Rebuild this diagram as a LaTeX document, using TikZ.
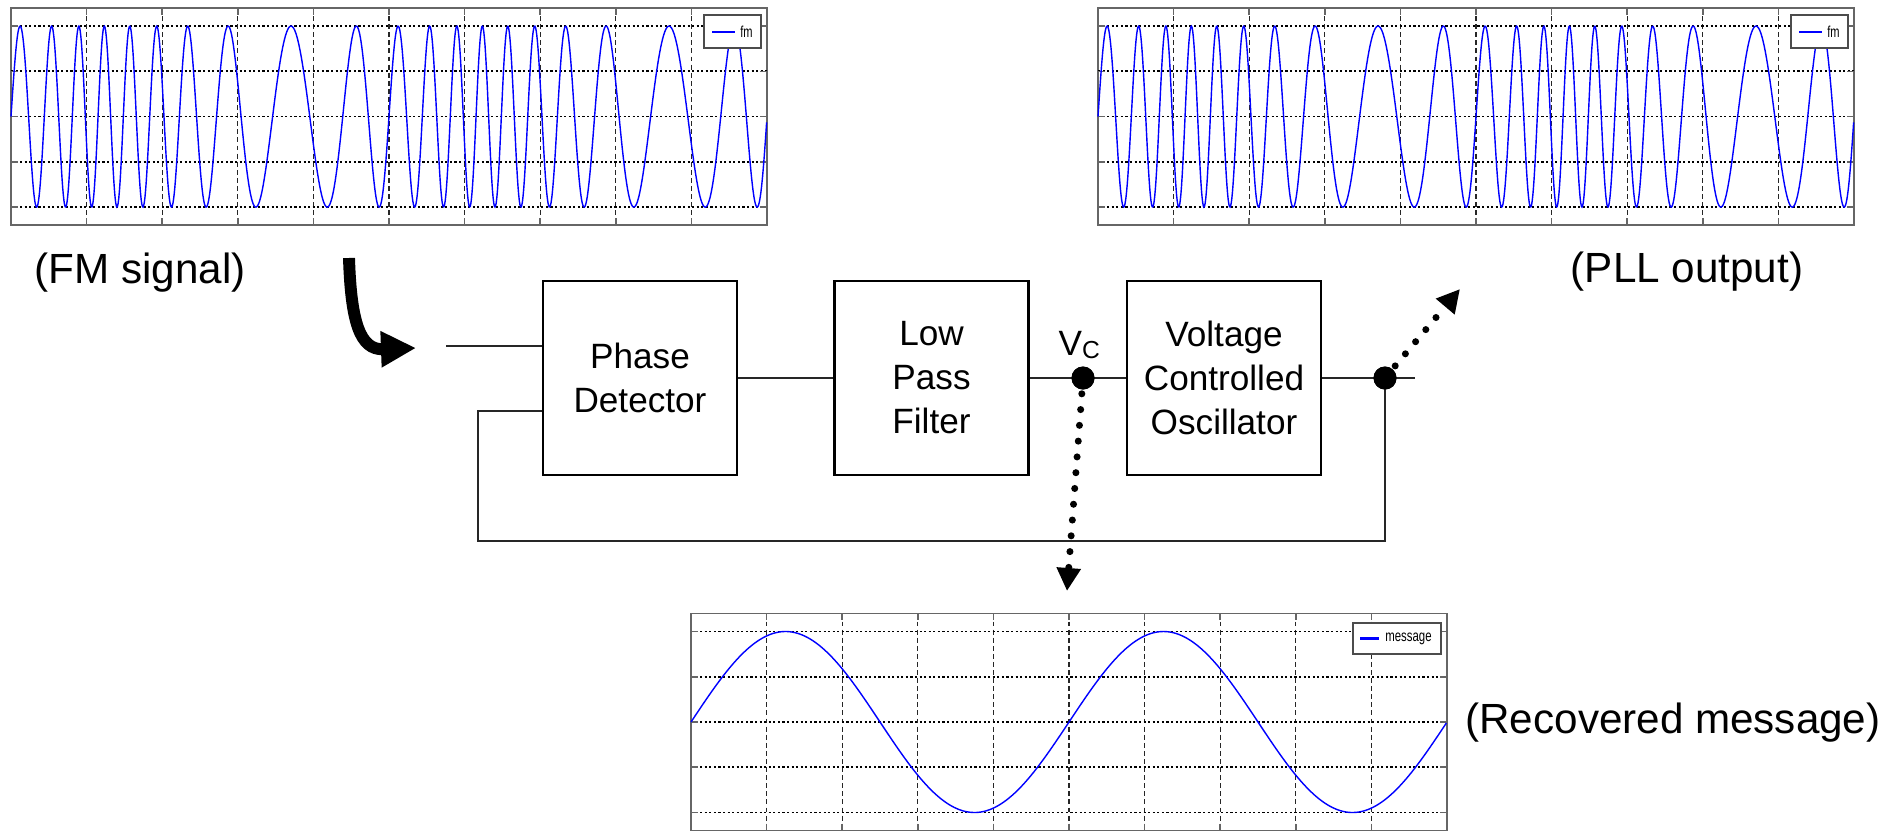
\documentclass[tikz,border=0pt]{standalone}
\usepackage{fontspec}
\setmainfont{Liberation Sans}
\usepackage{graphicx}
\usetikzlibrary{arrows.meta,calc}
\tikzset{
  block/.style     = {draw, line width=0.75pt, minimum width=1.94cm, minimum height=1.94cm,
                      inner sep=0pt, align=center, font=\fontsize{10}{12.5}\selectfont},
  wire/.style      = {line width=0.7pt, black!85},
  junction/.style  = {circle, fill=black, inner sep=0pt, minimum size=0.23cm},
  probe/.style     = {line width=2pt, dash pattern=on 0pt off 4.5pt, line cap=round,
                      -{Triangle[length=0.23cm,width=0.23cm]}},
  bigarrow/.style  = {line width=3.4pt, -{Triangle[length=0.35cm,width=0.34cm]}},
  caption/.style   = {font=\fontsize{12}{14}\selectfont},
  plotframe/.style = {draw=black!60, line width=0.45pt},
  vgrid/.style     = {black!85, line width=0.3pt, dash pattern=on 1.4pt off 0.9pt},
  hgrid/.style     = {black, line width=0.5pt, dash pattern=on 0.6pt off 0.7pt},
  wave/.style      = {blue, line width=0.4pt},
  legbox/.style    = {draw=black!70, fill=white, line width=0.4pt, inner sep=0pt},
  legtext/.style   = {font=\fontsize{4.5}{5}\selectfont, inner sep=0pt},
}
% frame, grid and ticks of one scope trace (local units: px, centre line at y=0)
\newcommand{\plotgrid}{%
  \draw[plotframe] (0,-108.6) rectangle (756,108.6);
  \foreach \k in {1,...,9} {
    \draw[vgrid] (\k*75.6,-108.6) -- (\k*75.6,108.6);
    \draw[plotframe] (\k*75.6,-108.6) -- ++(0,7) (\k*75.6,108.6) -- ++(0,-7);
  }
  \foreach \s in {-2,...,2} {
    \draw[hgrid] (0,\s*45.25) -- (756,\s*45.25);
    \draw[plotframe] (0,\s*45.25) -- ++(7,0) (756,\s*45.25) -- ++(-7,0);
  }
}
\newcommand{\fmwave}{%
  \draw[wave] plot[domain=0:1, samples=1200, variable=\t]
    ({756*\t}, {-90.5*sin(360*(20*\t+0.7958*(1-cos(720*\t))))});
}

\begin{document}
\begin{tikzpicture}[x=0.01cm, y=-0.01cm]
  \path[use as bounding box] (0,0) rectangle (1903,830);

  % FM signal trace
  \begin{scope}[shift={(11,116.6)}]
    \plotgrid
    \fmwave
    \node[legbox, minimum width=0.57cm, minimum height=0.33cm] (fmleg) at (721.5,-85) {};
    \draw[wave, line width=0.6pt] (701,-85) -- (724,-85);
    \node[legtext] (fmlegtext) at (735.5,-85) {\scalebox{0.7}[1]{fm}};
  \end{scope}

  % PLL output trace
  \begin{scope}[shift={(1098,116.6)}]
    \plotgrid
    \fmwave
    \node[legbox, minimum width=0.57cm, minimum height=0.33cm] (pllleg) at (721.5,-85) {};
    \draw[wave, line width=0.6pt] (701,-85) -- (724,-85);
    \node[legtext] (plllegtext) at (735.5,-85) {\scalebox{0.7}[1]{fm}};
  \end{scope}

  % recovered message trace
  \begin{scope}[shift={(691,722)}]
    \plotgrid
    \draw[wave] plot[domain=0:1, samples=300, variable=\t] ({756*\t}, {-90.5*sin(720*\t)});
    \node[legbox, minimum width=0.88cm, minimum height=0.31cm] (msgleg) at (706,-83.5) {};
    \draw[wave, line width=0.6pt] (669,-83.5) -- (688,-83.5);
    \node[legtext] (msglegtext) at (717.5,-83.5) {\scalebox{0.72}[1]{message}};
  \end{scope}

  % loop
  \node[block] (pd)  at (640,378)   {Phase\\Detector};
  \node[block] (lpf) at (931.5,378) {Low\\Pass\\Filter};
  \node[block] (vco) at (1224,378)  {Voltage\\Controlled\\Oscillator};

  \coordinate (in)     at (446,346);
  \coordinate (outend) at (1415,378);
  \coordinate (fbleft) at (478,411);
  \coordinate (fbbot)  at (478,541);
  \coordinate (vctip)  at (1067,591);
  \coordinate (plltip) at (1460,289);
  \coordinate (fmstart) at (349,258);
  \coordinate (fmtip)  at (416,348);

  \draw[wire] (in) -- (in -| pd.west);
  \draw[wire] (pd.east) -- (lpf.west);
  \draw[wire] (lpf.east) -- (vco.west);
  \draw[wire] (vco.east) -- (outend);
  \node[junction] (vcdot)  at (1083,378) {};
  \node[junction] (outdot) at (1385,378) {};
  \draw[wire] (fbleft -| pd.west) -- (fbleft) -- (fbbot) -| (outdot.center);

  \node[anchor=base west, inner sep=0pt, font=\fontsize{10}{12}\selectfont] (vclab) at (1058,355)
    {V\raisebox{-1.1pt}{\fontsize{7}{8}\selectfont C}};

  \draw[probe] (vcdot.center) -- (vctip);
  \draw[probe] (outdot.center) -- (plltip);
  \node[junction] at (vcdot) {};
  \node[junction] at (outdot) {};

  \draw[bigarrow] (fmstart) .. controls (351,322) and (360,350) .. (fmtip);

  \node[caption] (fmlab)  at (140,273)  {(FM signal)};
  \node[caption] (plllab) at (1687,272) {(PLL output)};
  \node[caption] (msglab) at (1673,723) {(Recovered message)};
\end{tikzpicture}
\end{document}
